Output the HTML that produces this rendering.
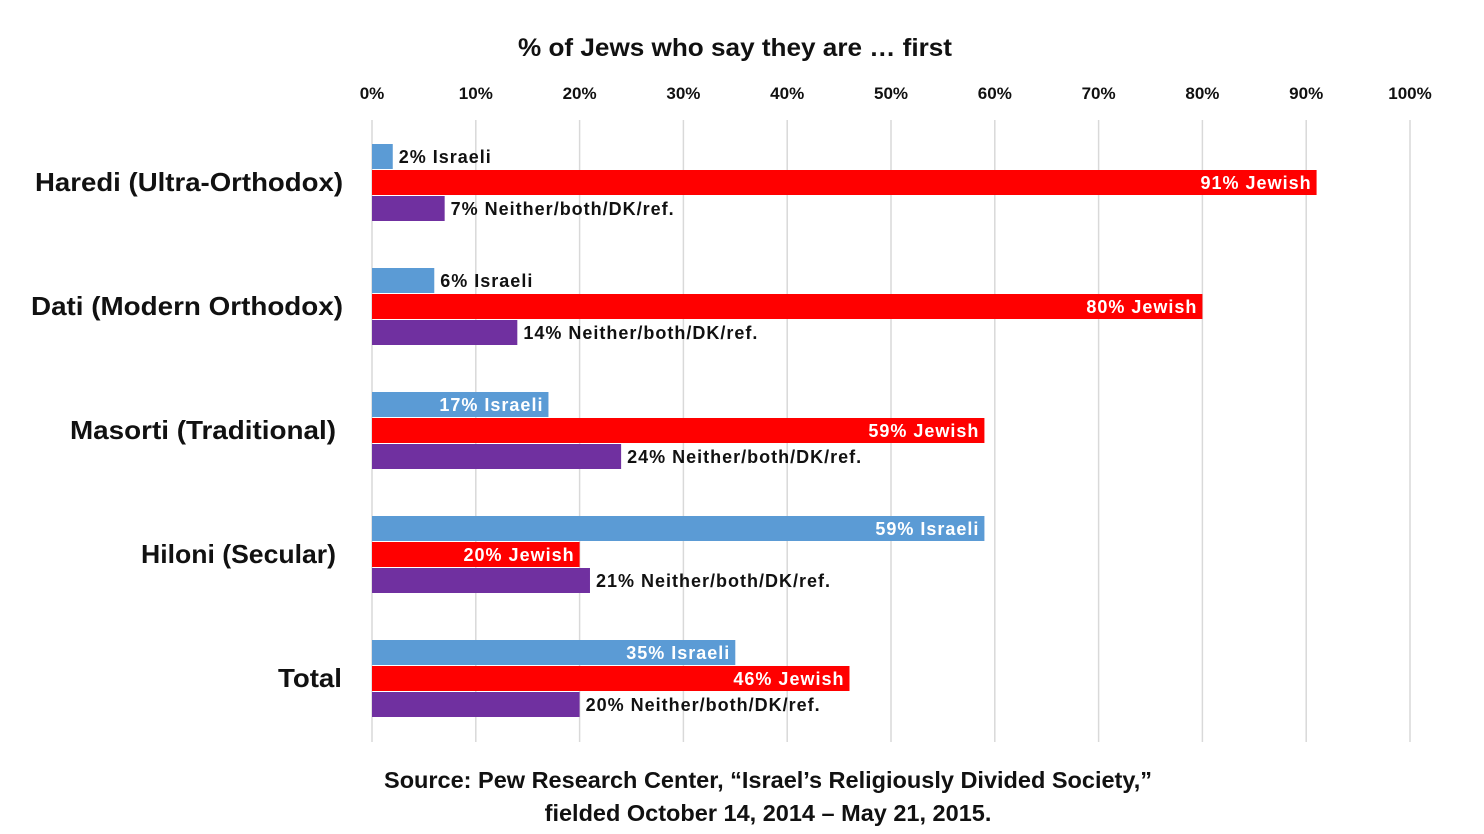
<!DOCTYPE html>
<html><head><meta charset="utf-8"><style>
body{margin:0;background:#fff;}
svg{display:block;font-family:"Liberation Sans",sans-serif;font-weight:bold;}
</style></head><body>
<svg id="c" width="1484" height="834"></svg>
<script>
const categories=["Haredi (Ultra-Orthodox)","Dati (Modern Orthodox)","Masorti (Traditional)","Hiloni (Secular)","Total"];
const israeli=[2,6,17,59,35];
const jewish=[91,80,59,20,46];
const neither=[7,14,24,21,20];
const ticks=[0,10,20,30,40,50,60,70,80,90,100];
const NS="http://www.w3.org/2000/svg";
const svg=document.getElementById('c');
const x0=372,x1=1410;
const xs=v=>x0+(x1-x0)*v/100;
const gy=i=>144+i*124;
function mk(t,a,p){const e=document.createElementNS(NS,t);for(const k in a)e.setAttribute(k,a[k]);(p||svg).appendChild(e);return e;}
let t=mk('text',{x:518,y:56,'font-size':25,'text-anchor':'start',fill:'#111',textLength:434,lengthAdjust:'spacingAndGlyphs'});t.textContent="% of Jews who say they are \u2026 first";


ticks.forEach(v=>{
 const l=mk('line',{x1:xs(v),x2:xs(v),y1:120,y2:742,stroke:'#d9d9d9','stroke-width':1.5});
 
 
 const tx=mk('text',{x:xs(v),y:99,'font-size':17,'text-anchor':'middle',fill:'#111'});tx.textContent=v+'%';
 
 
});
const catRight=[343,343,336,336,342];
const catWidth=[308,312,266,195,64];
const series=[{d:israeli,c:'#5b9bd5',n:'Israeli',o:0},{d:jewish,c:'#ff0000',n:'Jewish',o:26},{d:neither,c:'#7030a0',n:'Neither/both/DK/ref.',o:52}];
categories.forEach((cat,i)=>{
 const y=gy(i);
 const ct=mk('text',{x:catRight[i]-catWidth[i],y:y+47,'font-size':26,'text-anchor':'start',fill:'#111',textLength:catWidth[i],lengthAdjust:'spacingAndGlyphs'});ct.textContent=cat;
 
 
 series.forEach((s,k)=>{
  const v=s.d[i],by=y+s.o;
  const r=mk('rect',{x:x0,y:by,width:xs(v)-x0,height:25,fill:s.c});
  
  
  const inside=k<2&&v>=15;
  const lb=mk('text',{x:inside?xs(v)-5:xs(v)+6,y:by+19,'font-size':18,'letter-spacing':1,'text-anchor':inside?'end':'start',fill:inside?'#fff':'#111'});
  lb.textContent=v+'% '+s.n;
  
  
 });
});
const s1=mk('text',{x:768,y:788,'font-size':23.5,'text-anchor':'middle',fill:'#111'});s1.textContent="Source: Pew Research Center, \u201cIsrael\u2019s Religiously Divided Society,\u201d";


const s2=mk('text',{x:768,y:821,'font-size':23.5,'text-anchor':'middle',fill:'#111'});s2.textContent="fielded October 14, 2014 \u2013 May 21, 2015.";


</script>
</body></html>
